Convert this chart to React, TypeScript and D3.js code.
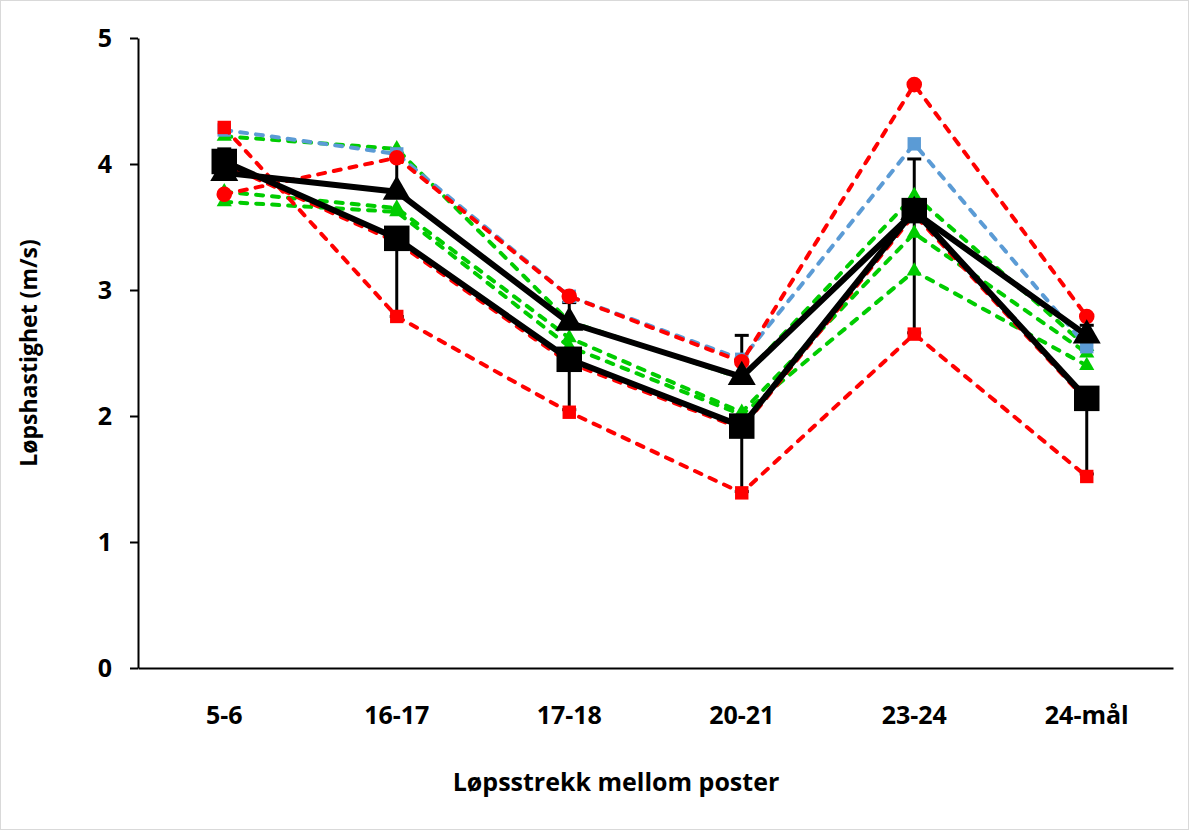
import React, { useEffect, useRef } from 'react';
import * as d3 from 'd3';

const categories = ['5-6', '16-17', '17-18', '20-21', '23-24', '24-mål'];
const yTicks = [0, 1, 2, 3, 4, 5];

// individual runners (dashed)
const redCircle = [3.76, 4.05, 2.95, 2.43, 4.63, 2.79];
const redSquare = [4.29, 2.79, 2.03, 1.39, 2.65, 1.52];
const redHidden = [4.0, 3.38, 2.42, 1.9, 3.6, 2.12];
const blueSquare = [4.27, 4.08, 2.95, 2.45, 4.16, 2.55];
const greenA = [4.22, 4.12, 2.75, 2.3, 3.75, 2.55];
const greenB = [3.78, 3.65, 2.62, 2.03, 3.45, 2.5];
const greenC = [3.7, 3.62, 2.55, 2.01, 3.15, 2.4];

// group means with SD
const meanSquare = [4.02, 3.41, 2.45, 1.92, 3.63, 2.14];
const sdSquare = [0.1, 0.62, 0.4, 0.52, 0.97, 0.6];
const meanTriangle = [3.93, 3.78, 2.74, 2.31, 3.62, 2.64];
const sdTriangle = [0.19, 0.26, 0.16, 0.33, 0.42, 0.08];

const RED = '#ff0000';
const BLUE = '#5b9bd5';
const GREEN = '#00cc00';
const FONT = '"Open Sans", sans-serif';

const App = () => {
  const ref = useRef(null);

  useEffect(() => {
    document.body.style.margin = '0';
    const svg = d3.select(ref.current);
    svg.selectAll('*').remove();

    const W = 1189, H = 830;
    const left = 138, right = 1173, top = 38, bottom = 668;

    const x = d3.scaleBand().domain(categories).range([left, right]);
    const y = d3.scaleLinear().domain([0, 5]).range([bottom, top]);
    const cx = (i) => x(categories[i]) + x.bandwidth() / 2;

    svg.append('rect').attr('x', 0.5).attr('y', 0.5).attr('width', W - 1).attr('height', H - 1)
      .attr('fill', '#fff').attr('stroke', '#d9d9d9');

    // axes
    const yAxis = svg.append('g').attr('transform', `translate(${left},0)`)
      .call(d3.axisLeft(y).tickValues(yTicks).tickFormat(d3.format('d'))
        .tickSize(8).tickSizeOuter(0).tickPadding(18));
    yAxis.select('.domain').attr('stroke', '#000').attr('stroke-width', 2);
    yAxis.selectAll('.tick line').attr('stroke', '#000').attr('stroke-width', 2);
    yAxis.selectAll('.tick text').attr('font-family', FONT).attr('font-weight', 'bold')
      .attr('font-size', 25).attr('fill', '#000');

    const xAxis = svg.append('g').attr('transform', `translate(0,${bottom})`)
      .call(d3.axisBottom(x).tickSize(0).tickSizeOuter(0).tickPadding(38));
    xAxis.select('.domain').attr('stroke', '#000').attr('stroke-width', 2);
    xAxis.selectAll('.tick text').attr('font-family', FONT).attr('font-weight', 'bold')
      .attr('font-size', 25).attr('fill', '#000');

    svg.append('text').attr('x', 616).attr('y', 791).attr('text-anchor', 'middle')
      .attr('font-family', FONT).attr('font-weight', 'bold').attr('font-size', 25).text('Løpsstrekk mellom poster');
    svg.append('text').attr('transform', `translate(37,${(top + bottom) / 2}) rotate(-90)`)
      .attr('text-anchor', 'middle').attr('font-family', FONT).attr('font-weight', 'bold')
      .attr('font-size', 23).text('Løpshastighet (m/s)');

    const line = d3.line().x((d, i) => cx(i)).y((d) => y(d));

    // error bars
    const errG = svg.append('g');
    const drawErr = (mean, sd, dir) => {
      mean.forEach((m, i) => {
        const y1 = y(m), y2 = y(m + dir * sd[i]);
        errG.append('line').attr('x1', cx(i)).attr('x2', cx(i)).attr('y1', y1).attr('y2', y2)
          .attr('stroke', '#000').attr('stroke-width', 3);
        errG.append('line').attr('x1', cx(i) - 7).attr('x2', cx(i) + 7).attr('y1', y2).attr('y2', y2)
          .attr('stroke', '#000').attr('stroke-width', 3);
      });
    };
    drawErr(meanSquare, sdSquare, -1);
    drawErr(meanTriangle, sdTriangle, 1);

    const dashed = [
      { data: greenC, color: GREEN, sym: d3.symbolTriangle, size: 100 },
      { data: greenB, color: GREEN, sym: d3.symbolTriangle, size: 100 },
      { data: greenA, color: GREEN, sym: d3.symbolTriangle, size: 100 },
      { data: redHidden, color: RED, sym: d3.symbolSquare, size: 180 },
      { data: blueSquare, color: BLUE, sym: d3.symbolSquare, size: 180 },
      { data: redSquare, color: RED, sym: d3.symbolSquare, size: 180 },
      { data: redCircle, color: RED, sym: d3.symbolCircle, size: 190 },
    ];
    dashed.forEach((s) => {
      const g = svg.append('g');
      g.append('path').attr('d', line(s.data)).attr('fill', 'none').attr('stroke', s.color)
        .attr('stroke-width', 4).attr('stroke-dasharray', '7,9').attr('stroke-linecap', 'round');
      g.selectAll('path.m').data(s.data).enter().append('path').attr('class', 'm')
        .attr('transform', (d, i) => `translate(${cx(i)},${y(d)})`)
        .attr('d', d3.symbol().type(s.sym).size(s.size)).attr('fill', s.color);
    });

    const solid = [
      { data: meanSquare, sym: d3.symbolSquare, size: 650 },
      { data: meanTriangle, sym: d3.symbolTriangle, size: 340 },
    ];
    solid.forEach((s) => {
      const g = svg.append('g');
      g.append('path').attr('d', line(s.data)).attr('fill', 'none').attr('stroke', '#000')
        .attr('stroke-width', 6).attr('stroke-linejoin', 'round');
      g.selectAll('path.m').data(s.data).enter().append('path').attr('class', 'm')
        .attr('transform', (d, i) => `translate(${cx(i)},${y(d)})`)
        .attr('d', d3.symbol().type(s.sym).size(s.size)).attr('fill', '#000');
    });
  }, []);

  return <svg ref={ref} width={1189} height={830} style={{ display: 'block' }} />;
};

export default App;
